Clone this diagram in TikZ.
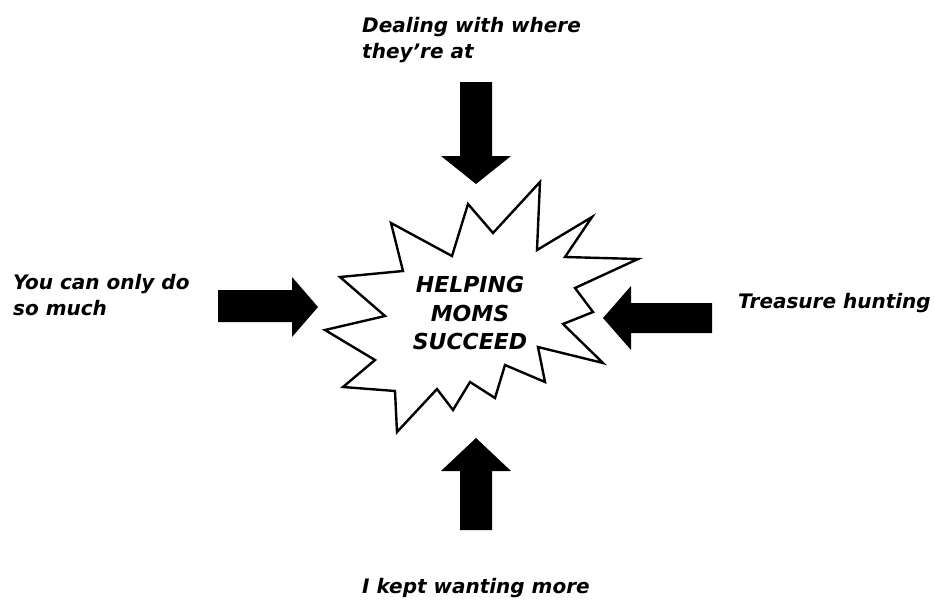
\documentclass[tikz,border=0pt]{standalone}
\usepackage{fontspec}
\setmainfont{DejaVu Sans}
\usetikzlibrary{positioning}
\tikzset{
  hmlabel/.style={font=\fontsize{20}{26}\selectfont\bfseries\itshape, align=left,
                  inner sep=0pt, anchor=base west},
  hmcentre/.style={font=\fontsize{22}{28.5}\selectfont\bfseries\itshape, align=center,
                   inner sep=0pt},
  hmburst/.style={draw=black, fill=white, line width=2.4pt, line join=miter},
  hmarrow/.style={fill=black},
}
\begin{document}
\begin{tikzpicture}[x=1pt, y=-1pt]
  \useasboundingbox (0,0) rectangle (934,600);

  % starburst
  \draw[hmburst] (540,182) -- (537,250) -- (592,217) -- (565,257) -- (638,259)
    -- (575,288) -- (593,312) -- (563,324) -- (603,363) -- (538,347) -- (545,382)
    -- (505,365) -- (495,398) -- (470,382) -- (453,410) -- (437,389) -- (397,432)
    -- (395,391) -- (343,387) -- (375,360) -- (325,330) -- (385,316) -- (340,277)
    -- (403,271) -- (391,223) -- (452,256) -- (468,204) -- (493,233) -- cycle;
  \node[hmcentre] (helping) at (470,313) {HELPING\\MOMS\\SUCCEED};

  % block arrows
  \fill[hmarrow] (460,82) -- (492,82) -- (492,156) -- (511,156) -- (476,184)
    -- (441,156) -- (460,156) -- cycle;
  \fill[hmarrow] (218,290) -- (292,290) -- (292,277) -- (318,307) -- (292,337)
    -- (292,322) -- (218,322) -- cycle;
  \fill[hmarrow] (712,303) -- (631,303) -- (631,286) -- (603,318) -- (631,350)
    -- (631,333) -- (712,333) -- cycle;
  \fill[hmarrow] (460,530) -- (492,530) -- (492,471) -- (511,471) -- (476,438)
    -- (441,471) -- (460,471) -- cycle;

  % labels (base = last line)
  \node[hmlabel] (dealing)  at (362,58)  {Dealing with where\\they're at};
  \node[hmlabel] (onlydo)   at (13,315)  {You can only do\\so much};
  \node[hmlabel] (treasure) at (738,308) {Treasure hunting};
  \node[hmlabel] (wanting)  at (362,593) {I kept wanting more};
\end{tikzpicture}
\end{document}
